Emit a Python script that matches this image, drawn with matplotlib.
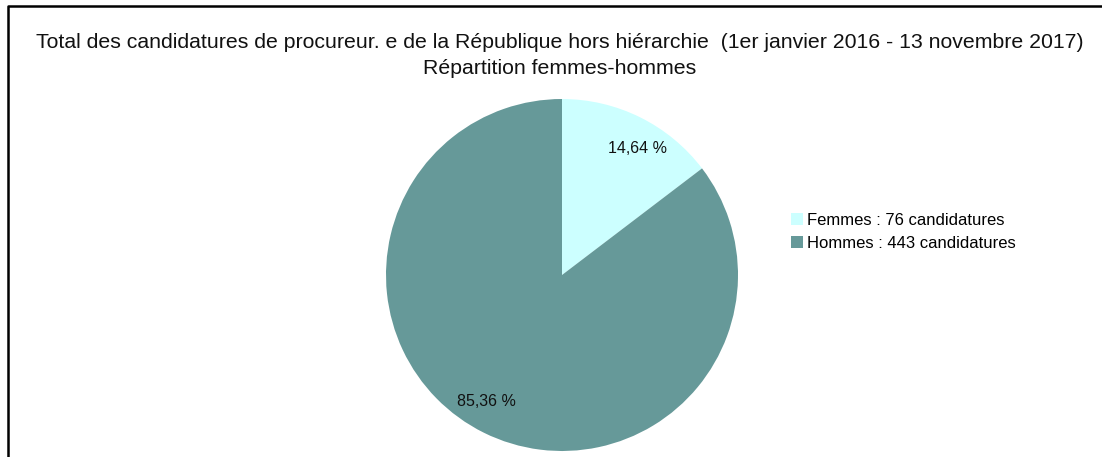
import numpy as np
import matplotlib.pyplot as plt
from matplotlib.lines import Line2D
from matplotlib.patches import Patch

# Data
labels = ['Femmes', 'Hommes']
counts = [76, 443]
colors = ['#ccffff', '#669999']

W, H = 1102, 457
fig = plt.figure(figsize=(W / 100, H / 100), dpi=100)
plt.rcParams['font.family'] = ['Liberation Sans', 'DejaVu Sans']

# pie axes: center (562, 275) px, radius 176 px
cx, cy, r = 562, 275, 176
ax = fig.add_axes([(cx - r) / W, (H - cy - r) / H, 2 * r / W, 2 * r / H])

def fmt(p):
    return ('%.2f %%' % p).replace('.', ',')

wedges, _, autotexts = ax.pie(counts, colors=colors, startangle=90, counterclock=False,
                              autopct=fmt, pctdistance=0.83, radius=1.0,
                              textprops={'fontsize': 11.5, 'color': '#111111'})
# nudge percentage labels slightly clockwise, like the original
for t in autotexts:
    x, y = t.get_position()
    a = np.arctan2(y, x) - np.radians(4.5)
    t.set_position((0.84 * np.cos(a), 0.84 * np.sin(a)))
ax.set_xlim(-1, 1)
ax.set_ylim(-1, 1)
ax.set_aspect('equal')

# Title
fig.text(560 / W, 1 - 42 / H, 'Total des candidatures de procureur. e de la République hors hiérarchie  (1er janvier 2016 - 13 novembre 2017)',
         ha='center', va='center', fontsize=15.3, color='#111111')
fig.text(560 / W, 1 - 68 / H, 'Répartition femmes-hommes', ha='center', va='center',
         fontsize=15.3, color='#111111')

# Legend
handles = [Patch(facecolor=c, edgecolor='none') for c in colors]
leg_labels = ['%s : %d candidatures' % (l, n) for l, n in zip(labels, counts)]
fig.legend(handles, leg_labels, loc='center left', bbox_to_anchor=(791 / W, 1 - 232 / H),
           frameon=False, fontsize=12, handlelength=0.7, handleheight=0.7,
           handletextpad=0.25, labelspacing=0.5, borderpad=0, borderaxespad=0)

# Frame (top and left edges)
fig.add_artist(Line2D([7.5 / W, 7.5 / W, 1.0], [0, 1 - 5.5 / H, 1 - 5.5 / H],
                      transform=fig.transFigure, color='black', linewidth=1.8))

fig.savefig('out.png', dpi=100, facecolor='white')
